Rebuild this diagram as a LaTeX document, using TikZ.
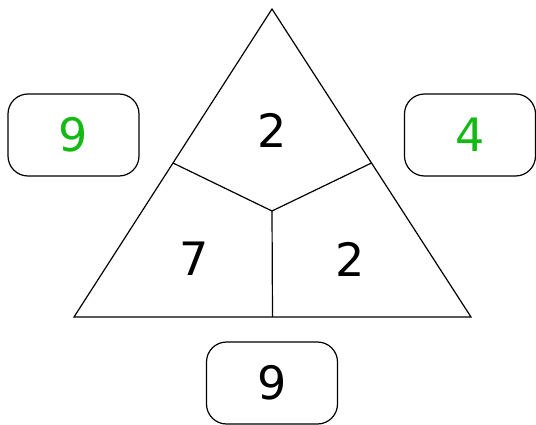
\documentclass[tikz,border=0pt]{standalone}
\usepackage{fontspec}
\setmainfont{DejaVu Sans}
\usetikzlibrary{calc}
\definecolor{numgreen}{RGB}{20,185,20}
\begin{document}
\begin{tikzpicture}[x=1pt,y=-1pt,line width=1.2pt,
  numbox/.style={draw,rounded corners=20pt,minimum width=131pt,minimum height=82pt,inner sep=0pt},
  digit/.style={font=\fontsize{46}{46}\selectfont}]
\useasboundingbox (0,0) rectangle (536,425);
\coordinate (A) at (272,9);
\coordinate (B) at (74,317);
\coordinate (C) at (471,317);
\coordinate (O) at (272,211);
\draw (A) -- (B) -- (C) -- cycle;
\coordinate (mAB) at ($(A)!0.5!(B)$);
\coordinate (mAC) at ($(A)!0.5!(C)$);
\coordinate (mBC) at ($(B)!0.5!(C)$);
\draw (O) -- (mAB);
\draw (O) -- (mAC);
\draw (O) -- (mBC);
\node[digit] (top) at (272,130) {2};
\node[digit] (lft) at (194,259) {7};
\node[digit] (rgt) at (350,259) {2};
\node[numbox,digit,text=numgreen] (bl) at (73.5,135) {9};
\node[numbox,digit,text=numgreen] (br) at (470,135) {4};
\node[numbox,digit] (bb) at (272,383) {9};
\end{tikzpicture}
\end{document}
